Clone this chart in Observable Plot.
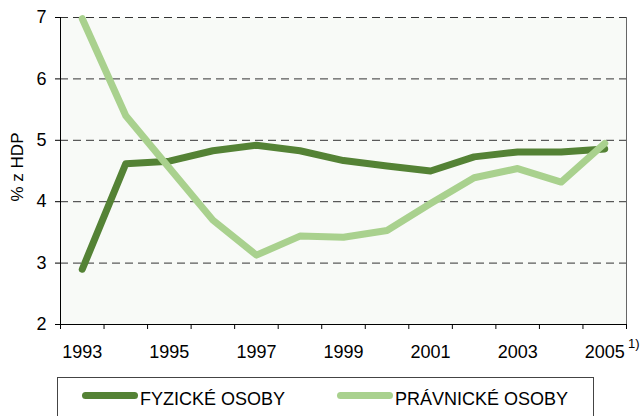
<!DOCTYPE html>
<html>
<head>
<meta charset="utf-8">
<script src="https://cdn.jsdelivr.net/npm/d3@7"></script>
<script src="https://cdn.jsdelivr.net/npm/@observablehq/plot@0.6"></script>
<style>
  html, body { margin: 0; padding: 0; background: #fff; }
  #wrap { position: relative; width: 642px; height: 416px; overflow: hidden; font-family: "Liberation Sans", Arial, sans-serif; }
  #legend { position: absolute; left: 57px; top: 377px; width: 537px; height: 60px; border: 1px solid #444; box-sizing: border-box; background: #fff; }
  .sw { position: absolute; height: 7px; border-radius: 4px; }
  .lt { position: absolute; font-size: 18px; line-height: 18px; color: #000; white-space: nowrap; }
</style>
</head>
<body>
<div id="wrap"></div>
<script>
const years = [1993, 1994, 1995, 1996, 1997, 1998, 1999, 2000, 2001, 2002, 2003, 2004, 2005];
const fyzicke = [2.90, 4.62, 4.66, 4.83, 4.92, 4.83, 4.67, 4.58, 4.50, 4.73, 4.81, 4.81, 4.86];
const pravnicke = [6.98, 5.40, 4.55, 3.70, 3.13, 3.44, 3.42, 3.53, 3.97, 4.39, 4.54, 4.32, 4.95];
const seriesNames = ["FYZICKÉ OSOBY", "PRÁVNICKÉ OSOBY"];
const seriesColors = ["#548235", "#a9d18e"];
const yTicks = [2, 3, 4, 5, 6, 7];
const yGrid = [3, 4, 5, 6, 7];
const xLabelYears = [1993, 1995, 1997, 1999, 2001, 2003, 2005];
const yLabel = "% z HDP";
const footnoteYear = [2005];
const footnoteText = ["1)"];

const xBounds = years.map(y => y - 0.5).concat([years[years.length - 1] + 0.5]);
const rowsF = years.map((y, i) => ({year: y, value: fyzicke[i]}));
const rowsP = years.map((y, i) => ({year: y, value: pravnicke[i]}));

const chart = Plot.plot({
  width: 642,
  height: 372,
  marginLeft: 60,
  marginRight: 16,
  marginTop: 17,
  marginBottom: 48,
  style: {fontFamily: "'Liberation Sans', Arial, sans-serif", fontSize: "18px", color: "#000", background: "transparent"},
  x: {domain: [xBounds[0], xBounds[xBounds.length - 1]]},
  y: {domain: [yTicks[0], yTicks[yTicks.length - 1]]},
  marks: [
    Plot.frame({fill: "#f8faf7", stroke: null}),
    Plot.ruleY(yGrid, {stroke: "#333", strokeWidth: 1, strokeDasharray: "8,5"}),
    Plot.ruleX([xBounds[xBounds.length - 1]], {stroke: "#666"}),
    Plot.ruleX([xBounds[0]], {stroke: "#000"}),
    Plot.ruleY([yTicks[0]], {stroke: "#000"}),
    Plot.axisY({ticks: yTicks, tickSize: 5, tickPadding: 9, label: null, tickFormat: d => String(d), fontSize: 18}),
    Plot.axisX({ticks: xBounds, tickSize: 5, tickFormat: () => "", label: null}),
    Plot.axisX({ticks: xLabelYears, tickSize: 0, tickPadding: 21, tickFormat: d => String(d), label: null, fontSize: 18}),
    Plot.line(rowsF, {x: "year", y: "value", stroke: seriesColors[0], strokeWidth: 7, strokeLinecap: "round", strokeLinejoin: "round"}),
    Plot.line(rowsP, {x: "year", y: "value", stroke: seriesColors[1], strokeWidth: 7, strokeLinecap: "round", strokeLinejoin: "round"}),
    Plot.text([yLabel], {frameAnchor: "left", rotate: -90, dx: -43, dy: -4, fontSize: 17, textAnchor: "middle", fill: "#000"}),
    Plot.text(footnoteText, {x: footnoteYear, frameAnchor: "bottom", dx: 29, dy: 23, fontSize: 13, textAnchor: "middle", fill: "#000"})
  ]
});
const wrap = document.getElementById("wrap");
wrap.appendChild(chart);

const legend = document.createElement("div");
legend.id = "legend";
const items = [
  {swLeft: 24, txtLeft: 82},
  {swLeft: 279, txtLeft: 337}
];
seriesNames.forEach((name, i) => {
  const sw = document.createElement("div");
  sw.className = "sw";
  sw.style.left = items[i].swLeft + "px";
  sw.style.top = "14px";
  sw.style.width = "56px";
  sw.style.background = seriesColors[i];
  legend.appendChild(sw);
  const t = document.createElement("div");
  t.className = "lt";
  t.style.left = items[i].txtLeft + "px";
  t.style.top = "12px";
  t.textContent = name;
  legend.appendChild(t);
});
wrap.appendChild(legend);
</script>
</body>
</html>
